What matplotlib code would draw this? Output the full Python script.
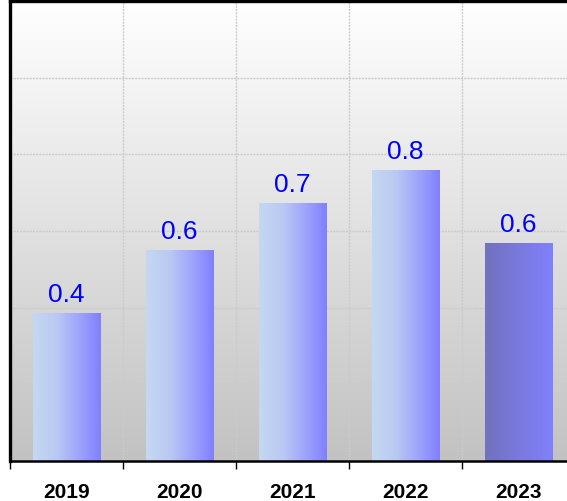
import numpy as np
import matplotlib
matplotlib.use("Agg")
import matplotlib.pyplot as plt
from matplotlib.colors import LinearSegmentedColormap

years = ["2019", "2020", "2021", "2022", "2023"]
values = [0.385, 0.55, 0.672, 0.758, 0.568]
labels = ["0.4", "0.6", "0.7", "0.8", "0.6"]

plt.rcParams['font.family'] = ['Liberation Sans', 'DejaVu Sans']

fig = plt.figure(figsize=(5.67, 5.01), dpi=100)
ax = fig.add_axes([10/567, 40/501, 565/567, 460/501])

ymax = 1.2
ax.set_xlim(-0.5, len(years) - 0.5)
ax.set_ylim(0, ymax)

# background gradient (white top -> gray bottom)
bg = LinearSegmentedColormap.from_list("bg", ["#c2c2c2", "#ffffff"])
grad = np.linspace(0, 1, 256).reshape(-1, 1)
ax.imshow(grad, cmap=bg, origin="lower", aspect="auto",
          extent=(-0.5, len(years) - 0.5, 0, ymax), zorder=0)

# grid
ax.set_yticks(np.arange(0, ymax + 0.001, 0.2))
ax.set_xticks(np.arange(len(years)))
ax.set_xticks(np.arange(len(years) + 1) - 0.5, minor=True)
ax.grid(True, which="major", axis="y", color="#cbcbcb", linestyle=(0, (1.5, 0.8)), linewidth=1, zorder=1)
ax.grid(True, which="minor", axis="x", color="#cbcbcb", linestyle=(0, (1.5, 0.8)), linewidth=1, zorder=1)
ax.set_axisbelow(True)

bar_cmap = LinearSegmentedColormap.from_list(
    "bar", [(0.0, "#c4d8f1"), (0.35, "#bac9f3"), (0.7, "#9ca2fb"), (1.0, "#8080ff")])
last_cmap = LinearSegmentedColormap.from_list("last", ["#7272bc", "#8080ff"])
hgrad = np.linspace(0, 1, 256).reshape(1, -1)

width = 0.6
bars = ax.bar(np.arange(len(years)), values, width=width, color="none", zorder=2)
for i, b in enumerate(bars):
    x0 = b.get_x()
    cm = last_cmap if i == len(years) - 1 else bar_cmap
    ax.imshow(hgrad, cmap=cm, aspect="auto",
              extent=(x0, x0 + b.get_width(), 0, b.get_height()), zorder=2)
    ax.annotate(labels[i], (b.get_x() + b.get_width() / 2, b.get_height()),
                xytext=(0, 8), textcoords="offset points", ha="center", va="baseline",
                color="#0000ff", fontsize=19, zorder=3)

ax.set_xlim(-0.5, len(years) - 0.5)
ax.set_ylim(0, ymax)

ax.set_xticklabels(years, fontsize=15, fontweight="bold")
ax.tick_params(axis="x", which="major", length=0, pad=16)
ax.tick_params(axis="x", which="minor", length=6, width=1, color="black")
ax.tick_params(axis="y", which="both", length=0, labelleft=False)

for s in ["left", "top"]:
    ax.spines[s].set_linewidth(2.4)
    ax.spines[s].set_color("black")
ax.spines["bottom"].set_linewidth(1.8)
ax.spines["right"].set_visible(False)

fig.savefig("out.png", dpi=100)
